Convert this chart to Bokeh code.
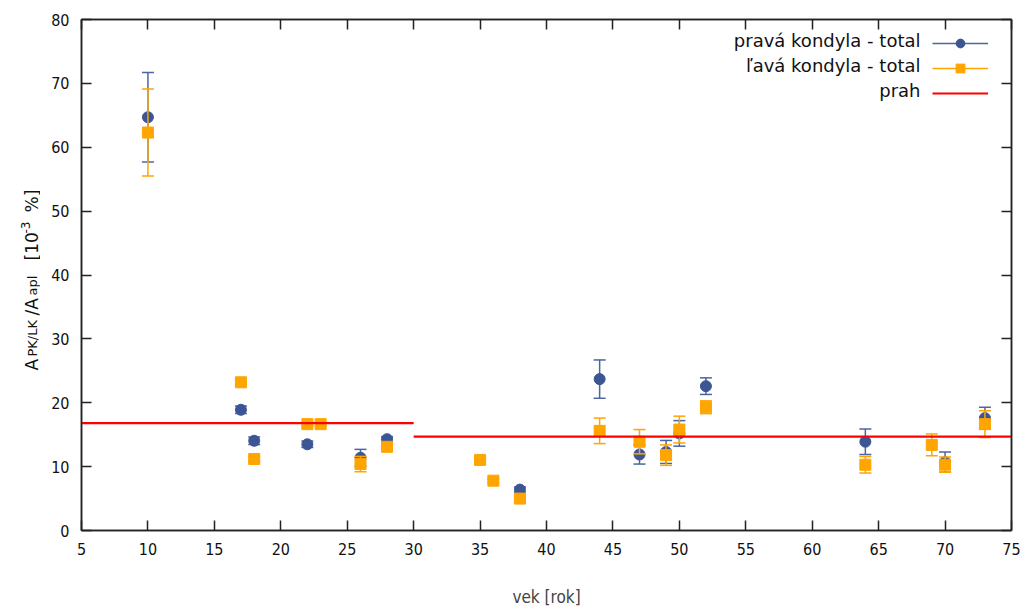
import math
from bokeh.plotting import figure
from bokeh.layouts import row
from bokeh.models import (LinearAxis, Range1d, FixedTicker, Label, Legend, LegendItem)
from bokeh.embed import file_html
from bokeh.resources import INLINE

# ---- data ----
pk_age = [10, 17, 18, 22, 26, 28, 38, 44, 47, 49, 50, 52, 64, 70, 73]
pk_val = [64.7, 18.9, 14.05, 13.5, 11.4, 14.3, 6.4, 23.7, 11.9, 12.3, 15.2, 22.6, 13.9, 10.7, 17.6]
pk_err = [7.0, 0.6, 0.6, 0.5, 1.3, 0.4, 0.4, 3.0, 1.5, 1.8, 2.0, 1.3, 2.0, 1.6, 1.7]

lk_age = [10, 17, 18, 22, 23, 26, 28, 35, 36, 38, 44, 47, 49, 50, 52, 64, 69, 70, 73]
lk_val = [62.3, 23.2, 11.2, 16.65, 16.65, 10.4, 13.1, 11.05, 7.8, 5.0, 15.6, 13.9, 11.8, 15.8, 19.3, 10.3, 13.4, 10.3, 16.65]
lk_err = [6.8, 0.3, 0.4, 0.3, 0.3, 1.2, 0.4, 0.3, 0.3, 0.3, 2.0, 1.9, 1.6, 2.1, 1.0, 1.3, 1.7, 1.2, 2.1]

prah_x0 = [5, 30]
prah_x1 = [30, 75]
prah_y = [16.8, 14.7]

series_names = ["pravá kondyla - total", "ľavá kondyla - total", "prah"]
x_ticks = list(range(5, 80, 5))
y_ticks = list(range(0, 90, 10))
x_label = "vek [rok]"
# y label pieces: (text, kind) kind: main / sub / sup
y_label_parts = [("A", "main"), ("PK/LK", "sub"), ("/A", "main"), ("apl", "sub"),
                 ("[10", "main"), ("-3", "sup"), ("%]", "main")]

BLUE = "#3c5595"
BLUE_E = "#4c64a2"
ORANGE = "#ffa500"
RED = "#ff0000"
TICK_FONT = "DejaVu Sans Condensed"
TEXT_FONT = "DejaVu Sans"

W, H = 1027, 609
LW = 40          # width of the narrow strip holding the y-axis title

# ---- narrow strip for the rotated y-axis title ----
lab = figure(width=LW, height=H, output_backend="svg", toolbar_location=None,
             x_range=Range1d(0, LW), y_range=Range1d(0, H),
             x_axis_location=None, y_axis_location=None,
             min_border=0, min_border_left=0, min_border_right=0,
             min_border_top=0, min_border_bottom=0)
lab.xgrid.visible = False
lab.ygrid.visible = False
lab.outline_line_color = None
lab.border_fill_color = "white"
lab.background_fill_color = "white"

ylab_pos = {"main": (31, "17px"), "sub": (32, "13px"), "sup": (25, "12px")}
ylab_start = [370, 356, 315, 295, 260, 233, 212]   # distance from top of the canvas
for (txt, kind), ys in zip(y_label_parts, ylab_start):
    xx, fs = ylab_pos[kind]
    lab.add_layout(Label(x=xx, y=ys, x_units="canvas", y_units="canvas", text=txt,
                         angle=math.pi / 2, text_align="left", text_baseline="alphabetic",
                         text_font=TEXT_FONT, text_font_size=fs, text_color="#111111"))

# ---- main plot ----
p = figure(width=W - LW, height=H, output_backend="svg", toolbar_location=None,
           x_range=Range1d(5, 75), y_range=Range1d(0, 80),
           min_border_left=81 - LW, min_border_right=16, min_border_top=19, min_border_bottom=76)
p.xgrid.visible = False
p.ygrid.visible = False
p.outline_line_color = "#222222"
p.outline_line_width = 1.5
p.background_fill_color = "white"
p.border_fill_color = "white"

def style_axis(ax, labels=True):
    ax.major_tick_in = 10
    ax.major_tick_out = 0
    ax.minor_tick_line_color = None
    ax.axis_line_color = "#222222"
    ax.axis_line_width = 1.5
    ax.major_tick_line_color = "#222222"
    ax.major_tick_line_width = 1.5
    ax.major_label_text_font = TICK_FONT
    ax.major_label_text_font_size = "16px"
    ax.major_label_text_color = "#111111"
    ax.major_label_standoff = 12
    if not labels:
        ax.major_label_text_alpha = 0
        ax.major_label_text_font_size = "1px"
        ax.major_label_standoff = 0

p.xaxis.ticker = FixedTicker(ticks=x_ticks)
p.yaxis.ticker = FixedTicker(ticks=y_ticks)
for ax in p.xaxis + p.yaxis:
    style_axis(ax)
p.xaxis.axis_label = x_label
p.xaxis.axis_label_text_font = TICK_FONT
p.xaxis.axis_label_text_font_size = "17px"
p.xaxis.axis_label_text_font_style = "normal"
p.xaxis.axis_label_standoff = 29
p.yaxis.major_label_standoff = 12

top_ax = LinearAxis(ticker=FixedTicker(ticks=x_ticks))
style_axis(top_ax, labels=False)
p.add_layout(top_ax, "above")
right_ax = LinearAxis(ticker=FixedTicker(ticks=y_ticks))
style_axis(right_ax, labels=False)
p.add_layout(right_ax, "right")

# ---- error bars & points ----
pk_lo = [v - e for v, e in zip(pk_val, pk_err)]
pk_hi = [v + e for v, e in zip(pk_val, pk_err)]
lk_lo = [v - e for v, e in zip(lk_val, lk_err)]
lk_hi = [v + e for v, e in zip(lk_val, lk_err)]

b_seg = p.segment(x0=pk_age, y0=pk_lo, x1=pk_age, y1=pk_hi, line_color=BLUE_E, line_width=1.5)
p.scatter(pk_age, pk_lo, marker="dash", size=12, line_color=BLUE_E, line_width=1.5)
p.scatter(pk_age, pk_hi, marker="dash", size=12, line_color=BLUE_E, line_width=1.5)
b_pts = p.scatter(pk_age, pk_val, marker="circle", size=11, fill_color=BLUE, line_color=BLUE)

o_seg = p.segment(x0=lk_age, y0=lk_lo, x1=lk_age, y1=lk_hi, line_color=ORANGE, line_width=1.5)
p.scatter(lk_age, lk_lo, marker="dash", size=12, line_color=ORANGE, line_width=1.5)
p.scatter(lk_age, lk_hi, marker="dash", size=12, line_color=ORANGE, line_width=1.5)
o_pts = p.scatter(lk_age, lk_val, marker="square", size=11, fill_color=ORANGE, line_color=ORANGE)

r_line = p.segment(x0=prah_x0, y0=prah_y, x1=prah_x1, y1=prah_y, line_color=RED, line_width=2.2)

# ---- legend (glyphs via Bokeh Legend, texts right-aligned in front of them) ----
legend = Legend(items=[LegendItem(label="", renderers=[b_seg, b_pts]),
                       LegendItem(label="", renderers=[o_seg, o_pts]),
                       LegendItem(label="", renderers=[r_line])],
                location=(851, 426), glyph_width=56, glyph_height=22, spacing=3,
                padding=10, margin=0, label_standoff=0, label_width=0, label_height=0,
                label_text_font_size="1px", border_line_color=None,
                background_fill_alpha=0)
p.add_layout(legend, "center")

row_y = [490, 465, 440]
for name, yy in zip(series_names, row_y):
    p.add_layout(Label(x=839, y=yy, x_units="screen", y_units="screen", text=name,
                       text_align="right", text_baseline="middle",
                       text_font=TEXT_FONT, text_font_size="18px", text_color="#111111"))

layout = row(lab, p, spacing=0)
open("out.html", "w").write(file_html(layout, INLINE))
